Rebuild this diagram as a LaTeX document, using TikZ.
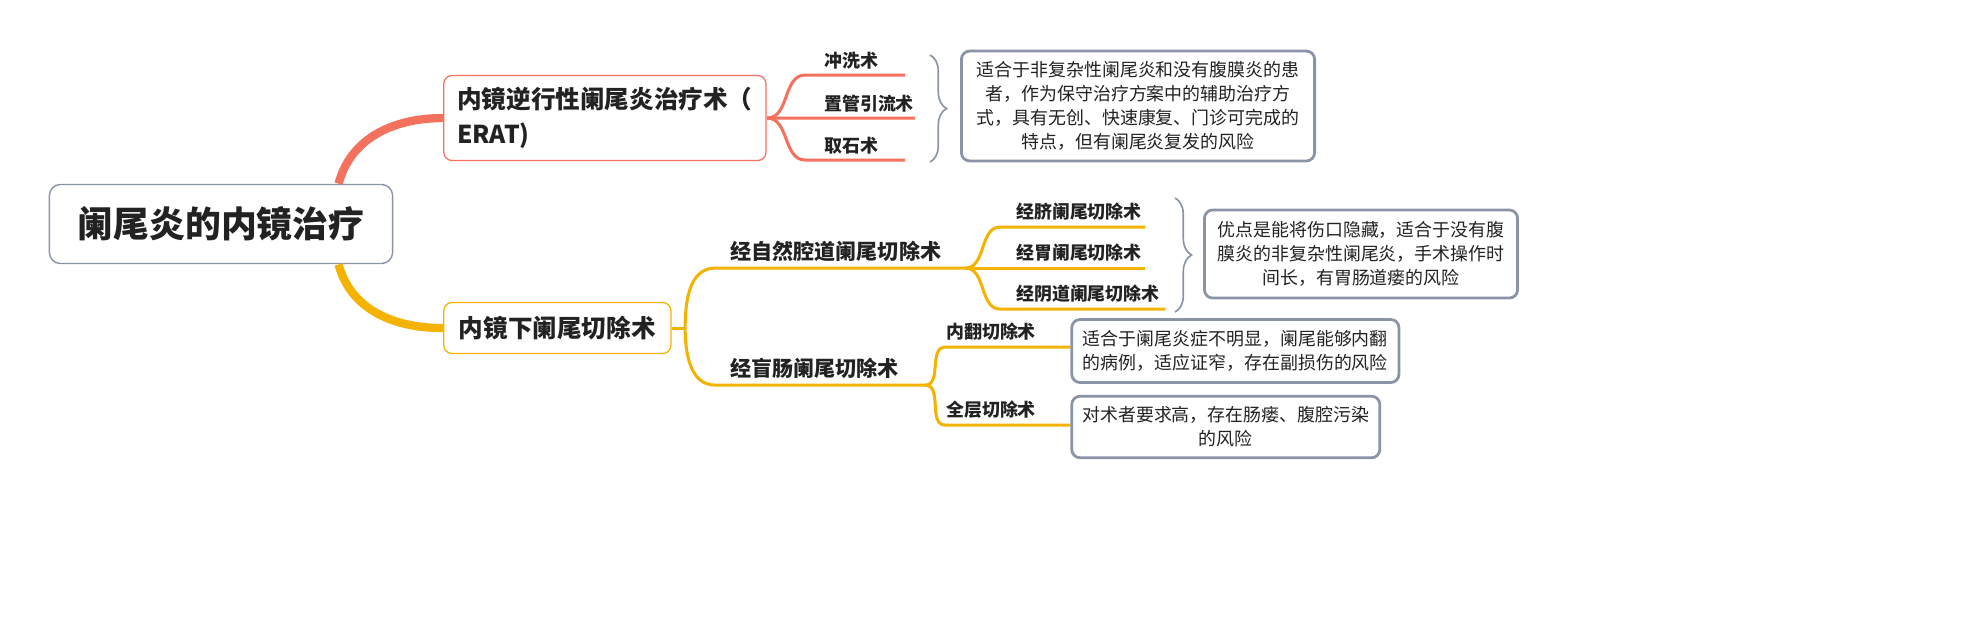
\documentclass[tikz,border=0pt]{standalone}
\usepackage{fontspec}
\setmainfont{Noto Sans CJK SC}
\usetikzlibrary{calc}
\usetikzlibrary{decorations.pathreplacing}
\definecolor{redbr}{HTML}{F4715E}
\definecolor{yelbr}{HTML}{F5B301}
\definecolor{grybr}{HTML}{8A94A6}
\definecolor{txt}{HTML}{222222}
\tikzstyle{root}=[draw=grybr,line width=0.5pt,rounded corners=4pt,fill=white,minimum width=3.43cm,minimum height=0.79cm,font=\fontsize{10.2}{12}\selectfont\bfseries,text=txt]
\tikzstyle{topic}=[rounded corners=3pt,fill=white,line width=0.45pt,font=\fontsize{7.0}{10}\selectfont\bfseries,text=txt,align=left]
\tikzstyle{sub}=[inner sep=1pt,font=\fontsize{6.0}{8}\selectfont\bfseries,text=txt,anchor=south west]
\tikzstyle{leaf}=[inner sep=1pt,font=\fontsize{5.1}{7}\selectfont\bfseries,text=txt,anchor=south west]
\tikzstyle{note}=[draw=grybr,line width=1pt,rounded corners=3pt,fill=white,align=center,font=\fontsize{5.1}{6.8}\selectfont,text=txt,inner sep=3pt]
\tikzstyle{brc}=[draw=grybr,line width=0.6pt,decorate,decoration={brace,amplitude=6pt}]

\begin{document}
\begin{tikzpicture}[x=0.01cm,y=-0.01cm,scale=1.27,every node/.append style={transform shape}]

  \useasboundingbox (0,0) rectangle (1982,642);

  % root
  \node[root] (root) at (221,224) {阑尾炎的内镜治疗};

  % ERAT branch
  \node[topic,draw=redbr,minimum width=3.22cm,minimum height=0.83cm,anchor=west] (erat) at (443,118)
    {内镜逆行性阑尾炎治疗术（\\ERAT)};
  \draw[redbr,line width=3pt] (root.north east) ++(-55,0) coordinate (r1)
    to[out=75,in=180] (erat.west);
  \coordinate (ehub) at (erat.east);
  \coordinate (e1) at (805,75);  \coordinate (e1e) at (905,75);
  \coordinate (e2) at (805,118); \coordinate (e2e) at (915,118);
  \coordinate (e3) at (805,160); \coordinate (e3e) at (905,160);
  \draw[redbr,line width=1.1pt] (ehub) to[out=0,in=180] (e1) -- (e1e);
  \draw[redbr,line width=1.1pt] (ehub) -- (e2) -- (e2e);
  \draw[redbr,line width=1.1pt] (ehub) to[out=0,in=180] (e3) -- (e3e);
  \node[leaf] (l1) at (820,73) {冲洗术};
  \node[leaf] (l2) at (820,116) {置管引流术};
  \node[leaf] (l3) at (820,158) {取石术};
  \draw[brc] (930,55) -- (930,162);
  \node[note,minimum width=3.53cm,minimum height=1.08cm] (n1) at (1138,106)
    {适合于非复杂性阑尾炎和没有腹膜炎的患\\者，作为保守治疗方案中的辅助治疗方\\式，具有无创、快速康复、门诊可完成的\\特点，但有阑尾炎复发的风险};

  % endoscopic appendectomy branch
  \node[topic,draw=yelbr,minimum width=2.27cm,minimum height=0.51cm,anchor=west] (endo) at (443,328)
    {内镜下阑尾切除术};
  \draw[yelbr,line width=3pt] (root.south east) ++(-55,0) coordinate (r2)
    to[out=-75,in=180] (endo.west);
  \coordinate (hub) at (685,328);
  \draw[yelbr,line width=1.1pt] (endo.east) -- (hub);
  \coordinate (a1) at (715,268); \coordinate (a1e) at (965,268);
  \coordinate (a2) at (715,385); \coordinate (a2e) at (925,385);
  \draw[yelbr,line width=1.1pt] (hub) to[out=90,in=180] (a1) -- (a1e);
  \draw[yelbr,line width=1.1pt] (hub) to[out=-90,in=180] (a2) -- (a2e);
  \node[sub] (s1) at (726,266) {经自然腔道阑尾切除术};
  \node[sub] (s2) at (726,383) {经盲肠阑尾切除术};

  % natural orifice children
  \coordinate (b1) at (1000,227); \coordinate (b1e) at (1145,227);
  \coordinate (b2) at (1000,268); \coordinate (b2e) at (1145,268);
  \coordinate (b3) at (1000,309); \coordinate (b3e) at (1165,309);
  \draw[yelbr,line width=1.1pt] (a1e) to[out=0,in=180] (b1) -- (b1e);
  \draw[yelbr,line width=1.1pt] (a1e) -- (b2) -- (b2e);
  \draw[yelbr,line width=1.1pt] (a1e) to[out=0,in=180] (b3) -- (b3e);
  \node[leaf] (m1) at (1012,225) {经脐阑尾切除术};
  \node[leaf] (m2) at (1012,266) {经胃阑尾切除术};
  \node[leaf] (m3) at (1012,307) {经阴道阑尾切除术};
  \draw[brc] (1175,198) -- (1175,312);
  \node[note,minimum width=3.13cm,minimum height=0.88cm] (n2) at (1361,254)
    {优点是能将伤口隐藏，适合于没有腹\\膜炎的非复杂性阑尾炎，手术操作时\\间长，有胃肠道瘘的风险};

  % cecum children
  \coordinate (c1) at (945,347); \coordinate (c1e) at (1070,347);
  \coordinate (c2) at (945,425); \coordinate (c2e) at (1070,425);
  \draw[yelbr,line width=1.1pt] (a2e) to[out=0,in=180] (c1) -- (c1e);
  \draw[yelbr,line width=1.1pt] (a2e) to[out=0,in=180] (c2) -- (c2e);
  \node[leaf] (k1) at (942,345) {内翻切除术};
  \node[leaf] (k2) at (942,423) {全层切除术};
  \node[note,minimum width=3.27cm,minimum height=0.63cm,anchor=west] (n3) at (1070,351)
    {适合于阑尾炎症不明显，阑尾能够内翻\\的病例，适应证窄，存在副损伤的风险};
  \node[note,minimum width=2.98cm,minimum height=0.61cm,anchor=west] (n4) at (1070,427)
    {对术者要求高，存在肠瘘、腹腔污染\\的风险};

\end{tikzpicture}
\end{document}
